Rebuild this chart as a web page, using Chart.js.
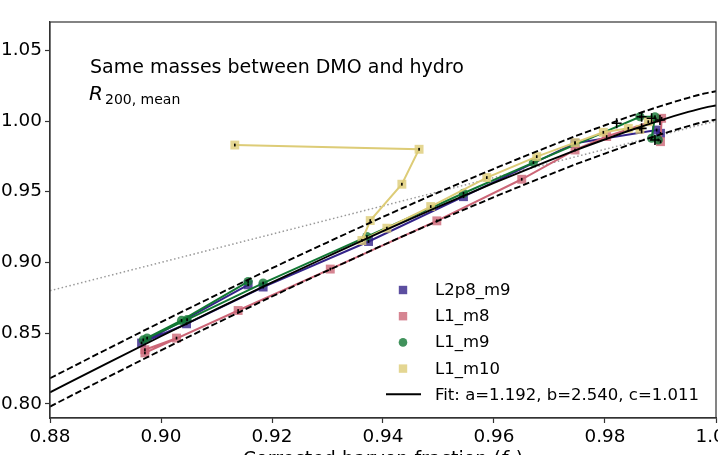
<!DOCTYPE html>
<html><head><meta charset="utf-8">
<script src="https://cdn.jsdelivr.net/npm/chart.js@4/dist/chart.umd.min.js"></script>
<style>
html,body{margin:0;padding:0;overflow:hidden;background:#fff;width:718px;height:455px;}
#wrap{position:absolute;left:-20px;top:0;width:760px;height:470px;}
</style></head><body>
<div id="wrap"><canvas id="c" width="760" height="470"></canvas></div>
<script>
// ---- data ----
const xTicks = [0.88, 0.90, 0.92, 0.94, 0.96, 0.98, 1.00];
const yTicks = [0.80, 0.85, 0.90, 0.95, 1.00, 1.05];

const seriesNames = ['L2p8_m9', 'L1_m8', 'L1_m9', 'L1_m10'];

const l2p8m9X = [0.9157, 0.8965, 0.9046, 0.9184, 0.9374, 0.9545, 0.9746, 0.9893, 0.9900];
const l2p8m9Y = [0.8842, 0.8430, 0.8566, 0.8826, 0.9148, 0.9465, 0.9843, 0.9936, 0.9913];

const l1m8X = [0.8971, 0.9028, 0.8971, 0.9139, 0.9305, 0.9497, 0.9650, 0.9746, 0.9803, 0.9902, 0.9900];
const l1m8Y = [0.8383, 0.8465, 0.8360, 0.8660, 0.8953, 0.9294, 0.9588, 0.9795, 0.9890, 1.0019, 0.9854];

const l1m9X = [0.9157, 0.9037, 0.8968, 0.8975, 0.9047, 0.9184, 0.9371, 0.9545, 0.9671, 0.9863, 0.9890, 0.9884, 0.9896];
const l1m9Y = [0.8865, 0.8590, 0.8452, 0.8465, 0.8595, 0.8854, 0.9183, 0.9489, 0.9706, 1.0030, 1.0030, 0.9878, 0.9866];

const l1m10X = [0.9133, 0.9465, 0.9434, 0.9377, 0.9362, 0.9407, 0.9486, 0.9587, 0.9677, 0.9746, 0.9797, 0.9842, 0.9863, 0.9878];
const l1m10Y = [0.9830, 0.9800, 0.9553, 0.9296, 0.9155, 0.9242, 0.9395, 0.9600, 0.9748, 0.9847, 0.9920, 0.9948, 0.9941, 0.9995];

// large error-bar crosses in the dense cluster
const crossX = [0.9866, 0.9866, 0.9884, 0.9899, 0.9890, 0.9821];
const crossY = [1.0030, 0.9948, 1.0019, 1.0007, 0.9866, 0.9984];

// fit curve and its +/- band
const fitX  = [0.88, 0.89, 0.90, 0.91, 0.92, 0.93, 0.94, 0.95, 0.96, 0.97, 0.975, 0.98, 0.985, 0.99, 0.995, 0.998, 1.00];
const fitY  = [0.8081, 0.8281, 0.8478, 0.8670, 0.8859, 0.9042, 0.9222, 0.9395, 0.9562, 0.9721, 0.9798, 0.9870, 0.9940, 1.0005, 1.0064, 1.0095, 1.0110];
const fitHi = [0.8181, 0.8381, 0.8578, 0.8770, 0.8959, 0.9142, 0.9322, 0.9495, 0.9662, 0.9821, 0.9898, 0.9970, 1.0040, 1.0105, 1.0164, 1.0195, 1.0210];
const fitLo = [0.7981, 0.8181, 0.8378, 0.8570, 0.8759, 0.8942, 0.9122, 0.9295, 0.9462, 0.9621, 0.9698, 0.9770, 0.9840, 0.9905, 0.9964, 0.9995, 1.0010];
const fitLabel = 'Fit: a=1.192, b=2.540, c=1.011';

const oneX = [0.88, 1.00];
const oneY = [0.88, 1.00];

// ---- helpers ----
const pts = (xs, ys) => xs.map((x, i) => ({x: x, y: ys[i]}));
const FONT = 'DejaVu Sans';
const colors = ['#332288', '#CC6677', '#117733', '#DDCC77'];
const fills  = ['rgba(51,34,136,0.8)', 'rgba(204,102,119,0.8)', 'rgba(17,119,51,0.8)', 'rgba(221,204,119,0.8)'];
const styles = ['rect', 'rect', 'circle', 'rect'];
const radii  = [6.3, 6.3, 4.6, 6.3];
const seriesX = [l2p8m9X, l1m8X, l1m9X, l1m10X];
const seriesY = [l2p8m9Y, l1m8Y, l1m9Y, l1m10Y];

const seriesSets = seriesNames.map((n, i) => ({
  label: n,
  data: pts(seriesX[i], seriesY[i]),
  showLine: true,
  borderColor: colors[i],
  borderWidth: 2,
  pointStyle: styles[i],
  pointRadius: radii[i],
  pointBackgroundColor: fills[i],
  pointBorderWidth: 0,
  pointHoverRadius: radii[i],
  order: 8 - i
}));

const lineSet = (label, xs, ys, dash, color, width, order) => ({
  label: label, data: pts(xs, ys), showLine: true, borderColor: color, borderWidth: width,
  borderDash: dash, pointRadius: 0, pointHoverRadius: 0, tension: 0.4,
  cubicInterpolationMode: 'monotone', order: order
});

const datasets = [
  lineSet(fitLabel, fitX, fitY, [], '#000', 1.9, 0),
  lineSet('fit upper', fitX, fitHi, [6.5, 3], '#000', 1.9, 1),
  lineSet('fit lower', fitX, fitLo, [6.5, 3], '#000', 1.9, 1),
  {label: 'err', data: pts(crossX, crossY), showLine: false, pointStyle: 'cross', pointRadius: 5,
   pointBorderColor: '#000', pointBorderWidth: 1.6, order: 2},
  ...seriesSets,
  lineSet('one-to-one', oneX, oneY, [1.5, 2.5], '#999', 1.5, 10)
];

// ---- plugins ----
const framePlugin = {
  id: 'frame',
  afterDraw(chart) {
    const a = chart.chartArea, ctx = chart.ctx;
    ctx.save();
    ctx.strokeStyle = '#333'; ctx.lineWidth = 1.2;
    ctx.strokeRect(a.left, a.top, a.right - a.left, a.bottom - a.top);
    ctx.restore();
  }
};

const dotsPlugin = {
  id: 'dots',
  afterDatasetsDraw(chart) {
    const ctx = chart.ctx;
    ctx.save();
    ctx.fillStyle = '#000';
    chart.data.datasets.forEach((ds, di) => {
      if (!seriesNames.includes(ds.label)) return;
      chart.getDatasetMeta(di).data.forEach(p => {
        ctx.fillRect(p.x - 0.8, p.y - 1.4, 1.6, 2.8);
      });
    });
    ctx.restore();
  }
};

const textPlugin = {
  id: 'texts',
  afterDraw(chart) {
    const a = chart.chartArea, ctx = chart.ctx;
    ctx.save();
    ctx.fillStyle = '#000';
    ctx.textBaseline = 'alphabetic';
    ctx.textAlign = 'left';
    ctx.font = '19px "' + FONT + '"';
    ctx.fillText('Same masses between DMO and hydro', a.left + 40, a.top + 51);
    ctx.font = 'italic 20px "' + FONT + '"';
    ctx.fillText('R', a.left + 39, a.top + 78);
    ctx.font = '14px "' + FONT + '"';
    ctx.fillText('200, mean', a.left + 55, a.top + 82);

    // x axis title (mostly below the visible window)
    const cx = (a.left + a.right) / 2, by = a.bottom + 47;
    ctx.font = '19px "' + FONT + '"';
    const p1 = 'Corrected baryon fraction (';
    const w1 = ctx.measureText(p1).width;
    ctx.font = 'italic 19px "' + FONT + '"';
    const wf = ctx.measureText('f').width;
    ctx.font = '13px "' + FONT + '"';
    const wb = ctx.measureText('b').width;
    ctx.font = '19px "' + FONT + '"';
    const wc = ctx.measureText(')').width;
    let x0 = cx - (w1 + wf + wb + wc) / 2;
    ctx.fillText(p1, x0, by); x0 += w1;
    ctx.font = 'italic 19px "' + FONT + '"';
    ctx.fillText('f', x0, by); x0 += wf;
    ctx.font = '13px "' + FONT + '"';
    ctx.fillText('b', x0, by + 4); x0 += wb;
    ctx.font = '19px "' + FONT + '"';
    ctx.fillText(')', x0, by);

    // legend
    const lx = a.left + 353, tx = a.left + 385;
    const baseY = a.top + 273, step = 26.2;
    ctx.font = '16.5px "' + FONT + '"';
    seriesNames.forEach((n, i) => {
      const y = baseY + i * step;
      const my = y - 5;
      ctx.fillStyle = fills[i];
      if (styles[i] === 'circle') {
        ctx.beginPath(); ctx.arc(lx, my, 4.3, 0, Math.PI * 2); ctx.fill();
      } else {
        ctx.fillRect(lx - 4.2, my - 4.2, 8.4, 8.4);
      }
      ctx.fillStyle = '#000';
      ctx.fillText(n, tx, y);
    });
    const fy = baseY + 4 * step;
    ctx.strokeStyle = '#000'; ctx.lineWidth = 1.9;
    ctx.beginPath(); ctx.moveTo(a.left + 336, fy - 5.5); ctx.lineTo(a.left + 371, fy - 5.5); ctx.stroke();
    ctx.fillText(fitLabel, tx, fy);
    ctx.restore();
  }
};

new Chart(document.getElementById('c'), {
  type: 'scatter',
  data: {datasets: datasets},
  options: {
    responsive: false,
    devicePixelRatio: 1,
    animation: false,
    layout: {padding: {left: 0, right: 24, top: 22, bottom: 0}},
    plugins: {legend: {display: false}, tooltip: {enabled: false}},
    scales: {
      x: {
        type: 'linear', position: 'bottom', min: 0.88, max: 1.00,
        afterBuildTicks: s => { s.ticks = xTicks.map(v => ({value: v})); },
        afterFit: s => { s.height = 470 - 418; },
        ticks: {callback: v => Number(v).toFixed(2), color: '#000', font: {family: FONT, size: 18.4},
                padding: 3, maxRotation: 0, autoSkip: false},
        grid: {drawOnChartArea: false, drawTicks: true, tickLength: 5, tickColor: '#333', tickWidth: 1.2},
        border: {display: true, color: '#333', width: 1.2}
      },
      y: {
        type: 'linear', min: 0.79, max: 1.07,
        afterBuildTicks: s => { s.ticks = yTicks.map(v => ({value: v})); },
        afterFit: s => { s.width = 70; },
        ticks: {callback: v => Number(v).toFixed(2), color: '#000', font: {family: FONT, size: 18.4},
                padding: 3, autoSkip: false},
        grid: {drawOnChartArea: false, drawTicks: true, tickLength: 5, tickColor: '#333', tickWidth: 1.2},
        border: {display: true, color: '#333', width: 1.2}
      }
    }
  },
  plugins: [dotsPlugin, framePlugin, textPlugin]
});
</script></body></html>
